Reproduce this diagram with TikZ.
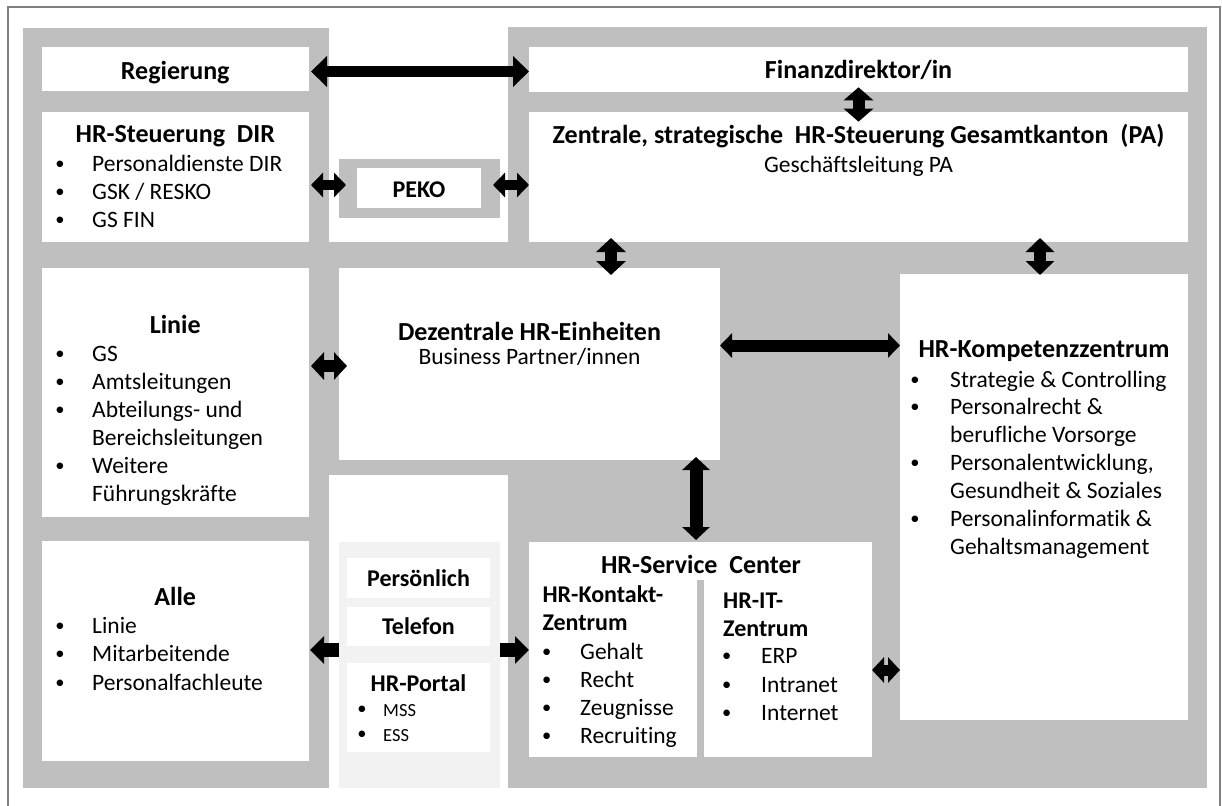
\documentclass[tikz,border=0pt]{standalone}
\usepackage{fontspec}
\setmainfont{Carlito}[Ligatures=NoCommon]
\usetikzlibrary{arrows.meta,calc,fit}

\definecolor{band}{RGB}{191,191,191}
\definecolor{pale}{RGB}{242,242,242}
\definecolor{framec}{RGB}{128,128,128}

% small list bullet
\newcommand\dotmark{{\fontsize{18.5}{18.5}\selectfont\raisebox{1.8pt}{\textbullet}}}
% bullet point: name, style, bullet x, text x, baseline, text
\newcommand\bpoint[6]{%
  \node[#2, anchor=base] (#1-dot) at (#3,#5) {\dotmark};
  \node[#2, anchor=base west] (#1) at (#4,#5) {#6};}
% continuation line of a bullet point: name, style, text x, baseline, text
\newcommand\bcont[5]{%
  \node[#2, anchor=base west] (#1) at (#3,#4) {#5};}

\begin{document}
\begin{tikzpicture}[x=1pt,y=-1pt,
  wbox/.style={fill=white, draw=none, inner sep=0pt, outer sep=0pt},
  gbox/.style={fill=band, draw=none, inner sep=0pt, outer sep=0pt},
  pbox/.style={fill=pale, draw=none, inner sep=0pt, outer sep=0pt},
  ttl/.style={font=\bfseries\fontsize{26}{31}\selectfont, inner sep=0pt, anchor=base},
  subttl/.style={font=\bfseries\fontsize{24}{28}\selectfont, inner sep=0pt, anchor=base},
  txt/.style={font=\fontsize{23.5}{28}\selectfont, inner sep=0pt},
  smtxt/.style={font=\fontsize{18.5}{22}\selectfont, inner sep=0pt},
  dblarrow/.style={line width=12pt,
    {Triangle[width=27pt,length=13pt]}-{Triangle[width=27pt,length=13pt]}},
  sglarrow/.style={line width=14pt, -{Triangle[width=27pt,length=14pt]}},
]
\useasboundingbox (0,0) rectangle (1222,805);

% outer frame
\begin{scope}
  \clip (0,0) rectangle (1222,805);
  \draw[framec, line width=2pt] (8,7) rectangle (1219.5,815);
\end{scope}

% grey organisation bands
\fill[band] (23,28) rectangle (329,788);
\fill[band] (508,27) rectangle (1207,788);
\fill[band] (329,242) rectangle (508,475);

% contact channels panel
\node[pbox, fit={(339,542) (500,788)}] (panel) {};

% PEKO frame
\node[gbox, fit={(339,159) (500,218)}] (pekoframe) {};
\node[wbox, fit={(357,168) (481,208)}] (peko) {};

% white boxes
\node[wbox, fit={(41.5,47) (309,91)}] (reg) {};
\node[wbox, fit={(529,47) (1188,92)}] (fin) {};
\node[wbox, fit={(41.5,112) (309,242)}] (dir) {};
\node[wbox, fit={(529,112) (1188,242)}] (zen) {};
\node[wbox, fit={(41.5,268) (309,517)}] (linie) {};
\node[wbox, fit={(339,268) (720,460)}] (dez) {};
\node[wbox, fit={(900,274) (1188,720)}] (komp) {};
\node[wbox, fit={(41.5,541) (309,761)}] (alle) {};
\node[wbox, fit={(529,542) (872,757)}] (sc) {};
\node[wbox, fit={(347,558) (490,598)}] (pers) {};
\node[wbox, fit={(347,607) (490,646)}] (tel) {};
\node[wbox, fit={(347,663) (490,752)}] (portal) {};
% divider inside the service center
\node[gbox, fit={(697,580) (704,757)}] (scdiv) {};

% connectors
\draw[dblarrow, line width=11pt,
  {Triangle[width=30pt,length=16pt]}-{Triangle[width=30pt,length=16pt]}]
  ($(reg.east)+(2,2.5)$) -- ($(fin.west)+(0,2)$);
\draw[dblarrow, {Triangle[width=29pt,length=13pt]}-{Triangle[width=29pt,length=13pt]}]
  ($(fin.south)+(0,-4.7)$) -- ($(zen.north)+(0,9.7)$);
\draw[dblarrow, line width=10pt,
  {Triangle[width=24pt,length=12pt]}-{Triangle[width=24pt,length=12pt]}]
  ($(pekoframe.west -| dir.east)+(2,-3.5)$) -- ($(pekoframe.west)+(7,-3.5)$);
\draw[dblarrow, line width=10pt,
  {Triangle[width=24pt,length=12pt]}-{Triangle[width=24pt,length=12pt]}]
  ($(pekoframe.east)+(-7,-3.5)$) -- ($(pekoframe.east -| zen.west)+(0,-3.5)$);
\draw[dblarrow, {Triangle[width=29pt,length=14pt]}-{Triangle[width=29pt,length=14pt]}]
  ($(zen.south west)+(82,-4)$) -- ($(dez.north west)+(272,7)$);
\draw[dblarrow, {Triangle[width=28pt,length=14pt]}-{Triangle[width=28pt,length=14pt]}]
  ($(komp.north)+(-4,-36)$) -- ($(komp.north)+(-4,1)$);
\draw[dblarrow]
  ($(linie.north east)+(2,98)$) -- ($(dez.north west)+(8,98)$);
\draw[dblarrow, {Triangle[width=24pt,length=12pt]}-{Triangle[width=24pt,length=12pt]}]
  ($(dez.north east)+(0,77.5)$) -- ($(komp.north west)+(0,71.5)$);
\draw[dblarrow, line width=13pt]
  ($(dez.south east)+(-24,-3)$) -- ($(sc.north west)+(167,-2)$);
\draw[dblarrow, line width=11pt,
  {Triangle[width=25pt,length=12pt]}-{Triangle[width=25pt,length=12pt]}]
  ($(sc.north east)+(0,128)$) -- ($(komp.north west)+(0,396)$);
\draw[sglarrow] ($(panel.north west)+(0,108)$) -- ($(alle.north east)+(1,109)$);
\draw[sglarrow] ($(panel.north east)+(0,108)$) -- ($(sc.north west)+(0,108)$);

% Regierung / Finanzdirektion
\node[ttl] (reg-t) at (175.25,80) {Regierung};
\node[ttl] (fin-t) at (858.5,79) {Finanzdirektor/in};

% HR-Steuerung DIR
\node[ttl] (dir-t) at (175.25,143) {HR-Steuerung~~DIR};
\bpoint{dir-1}{txt}{60}{92}{171.5}{Personaldienste DIR}
\bpoint{dir-2}{txt}{60}{92}{199.5}{GSK / RESKO}
\bpoint{dir-3}{txt}{60}{92}{227.5}{GS FIN}

\node[subttl] (peko-t) at (419,197) {PEKO};

% central HR steering
\node[ttl] (zen-t) at (858.5,144) {Zentrale, strategische~~HR-Steuerung Gesamtkanton~~(PA)};
\node[txt, anchor=base] (zen-s) at (858.5,172) {Geschäftsleitung PA};

% Linie
\node[ttl] (lin-t) at (175.25,333) {Linie};
\bpoint{lin-1}{txt}{60}{92}{361}{GS}
\bpoint{lin-2}{txt}{60}{92}{389}{Amtsleitungen}
\bpoint{lin-3}{txt}{60}{92}{417}{Abteilungs- und}
\bcont{lin-3b}{txt}{92}{445}{Bereichsleitungen}
\bpoint{lin-4}{txt}{60}{92}{473}{Weitere}
\bcont{lin-4b}{txt}{92}{501}{Führungskräfte}

% decentral HR units
\node[ttl] (dez-t) at (529.5,340.5) {Dezentrale HR-Einheiten};
\node[txt, anchor=base] (dez-s) at (529.5,364) {Business Partner/innen};

% HR competence centre
\node[ttl] (komp-t) at (1044,357) {HR-Kompetenzzentrum};
\bpoint{komp-1}{txt}{915}{950}{387}{Strategie \& Controlling}
\bpoint{komp-2}{txt}{915}{950}{414}{Personalrecht \&}
\bcont{komp-2b}{txt}{950}{442}{berufliche Vorsorge}
\bpoint{komp-3}{txt}{915}{950}{470}{Personalentwicklung,}
\bcont{komp-3b}{txt}{950}{498}{Gesundheit \& Soziales}
\bpoint{komp-4}{txt}{915}{950}{526}{Personalinformatik \&}
\bcont{komp-4b}{txt}{950}{554}{Gehaltsmanagement}

% Alle
\node[ttl] (alle-t) at (175.25,605) {Alle};
\bpoint{alle-1}{txt}{60}{92}{633}{Linie}
\bpoint{alle-2}{txt}{60}{92}{661}{Mitarbeitende}
\bpoint{alle-3}{txt}{60}{92}{690}{Personalfachleute}

% contact channels
\node[subttl] (pers-t) at (418.5,586) {Persönlich};
\node[subttl] (tel-t) at (418.5,634) {Telefon};
\node[subttl] (portal-t) at (418.5,691) {HR-Portal};
\bpoint{portal-1}{smtxt}{362}{383}{716}{MSS}
\bpoint{portal-2}{smtxt}{362}{383}{741}{ESS}

% HR service center
\node[ttl] (sc-t) at (701,573) {HR-Service~~Center};
\node[subttl, anchor=base west] (kz-t1) at (542.3,602) {HR-Kontakt-};
\node[subttl, anchor=base west] (kz-t2) at (542.3,630) {Zentrum};
\bpoint{kz-1}{txt}{546.7}{580}{659}{Gehalt}
\bpoint{kz-2}{txt}{546.7}{580}{687}{Recht}
\bpoint{kz-3}{txt}{546.7}{580}{715}{Zeugnisse}
\bpoint{kz-4}{txt}{546.7}{580}{743}{Recruiting}
\node[subttl, anchor=base west] (it-t1) at (723,608) {HR-IT-};
\node[subttl, anchor=base west] (it-t2) at (723,636) {Zentrum};
\bpoint{it-1}{txt}{726.7}{761}{663}{ERP}
\bpoint{it-2}{txt}{726.7}{761}{692}{Intranet}
\bpoint{it-3}{txt}{726.7}{761}{720}{Internet}
\end{tikzpicture}
\end{document}
